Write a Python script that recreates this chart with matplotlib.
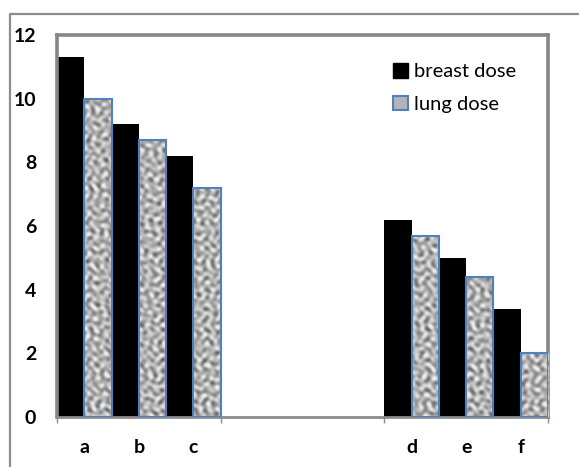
import numpy as np
import matplotlib
matplotlib.use("Agg")
import matplotlib.pyplot as plt
from matplotlib.patches import Patch
from matplotlib.lines import Line2D

# data
labels = ["a", "b", "c", "d", "e", "f"]
slots = [0, 1, 2, 6, 7, 8]          # c and d are separated by three empty slots
breast_dose = [11.3, 9.2, 8.2, 6.2, 5.0, 3.4]
lung_dose = [10.0, 8.7, 7.2, 5.7, 4.4, 2.0]
yticks = [0, 2, 4, 6, 8, 10, 12]

W, H, DPI = 579, 467, 100
plt.rcParams['font.family'] = ['Lato', 'DejaVu Sans']

fig = plt.figure(figsize=(W / DPI, H / DPI), dpi=DPI)
L, R, T, B = 57, 548, 35, 417
ax = fig.add_axes([L / W, 1 - B / H, (R - L) / W, (B - T) / H])

# outer frame (top and left edges only)
fig.add_artist(Line2D([10 / W, 10 / W, 1.0], [0.0, 1 - 14 / H, 1 - 14 / H],
                      transform=fig.transFigure, color="#8c8c8c", lw=1.6))

x = np.array(slots, dtype=float)
bw = 0.5
ax.bar(x + 0.25, breast_dose, width=bw, color="black", zorder=2)

# granite-like texture for the lung bars (deterministic pattern)
ny, nx = B - T, R - L
yy, xx = np.mgrid[0:ny, 0:nx].astype(float)
v = (np.sin(0.71 * xx + 1.8 * np.sin(0.31 * yy))
     + np.sin(0.63 * yy + 1.7 * np.sin(0.43 * xx))
     + 0.8 * np.sin(0.37 * (xx - yy) + 2.0 * np.sin(0.23 * (xx + yy)))
     + 0.6 * np.sin(0.53 * xx + 0.29 * yy + 2.5 * np.sin(0.17 * yy - 0.11 * xx))
     + 0.5 * np.sin(0.91 * yy - 0.47 * xx + 1.9 * np.sin(0.13 * xx + 0.07 * yy)))
g = np.clip(0.70 + 0.09 * v, 0.25, 0.93)
tex = np.dstack([g, g, g])

edges = ax.bar(x + 0.75, lung_dose, width=bw, facecolor="none",
               edgecolor="#4f81bd", lw=1.5, zorder=4)
for p in edges.patches:
    im = ax.imshow(tex, extent=[0, 9, 0, 12], aspect="auto", zorder=3,
                   interpolation="bilinear")
    im.set_clip_path(p)

ax.set_xlim(0, 9)
ax.set_ylim(0, 12)

ax.set_yticks(yticks)
ax.set_yticklabels([str(t) for t in yticks], fontsize=14, fontweight="bold")
ax.tick_params(axis="y", length=0, pad=15)

ax.set_xticks([0, 3, 6, 9])
ax.set_xticklabels([])
ax.tick_params(axis="x", which="major", length=4.5, width=1, color="#8c8c8c",
               direction="out")
ax.set_xticks(x + 0.5, minor=True)
ax.set_xticklabels(labels, minor=True, fontsize=14, fontweight="bold")
ax.tick_params(axis="x", which="minor", length=0, pad=16)

for side in ["top", "right", "left"]:
    ax.spines[side].set_color("#868686")
    ax.spines[side].set_linewidth(2.6)
ax.spines["bottom"].set_color("#8c8c8c")
ax.spines["bottom"].set_linewidth(2)

handles = [Patch(facecolor="black", edgecolor="black"),
           Patch(facecolor="#b4b4b4", edgecolor="#4f81bd", lw=1.5)]
fig.legend(handles, ["breast dose", "lung dose"], loc="upper left",
           bbox_to_anchor=(383 / W, 1 - 53 / H), bbox_transform=fig.transFigure,
           frameon=False, fontsize=14.5, handlelength=0.75, handleheight=0.75,
           handletextpad=0.3, labelspacing=0.75, borderpad=0)

fig.savefig("out.png", dpi=DPI)
